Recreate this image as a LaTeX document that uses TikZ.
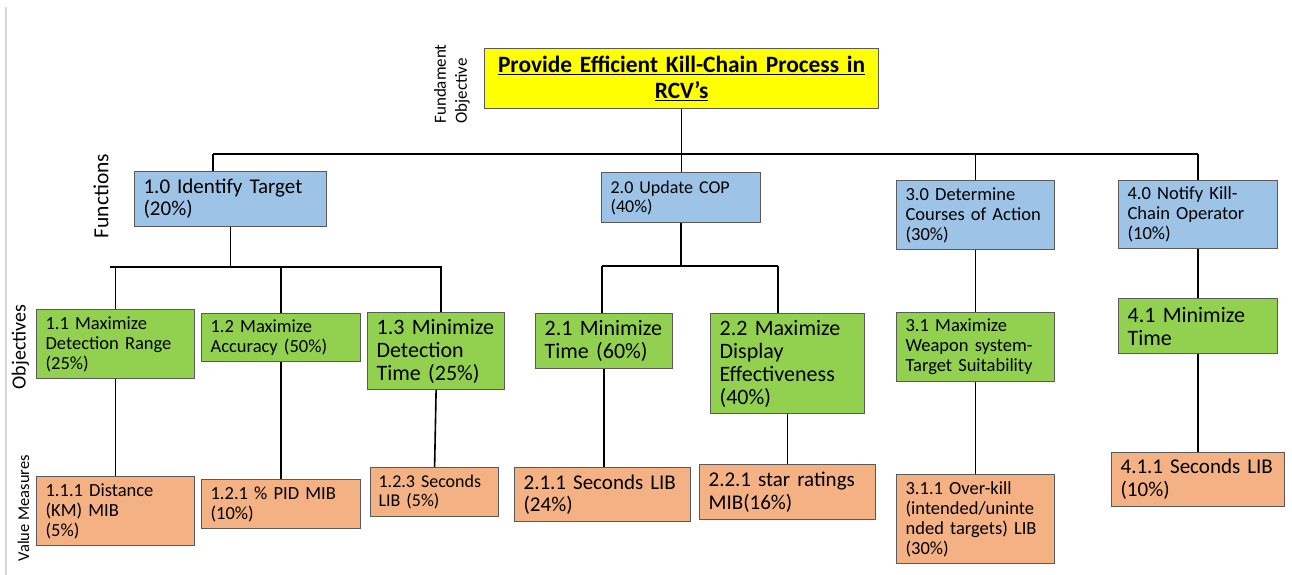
\documentclass[tikz,border=0pt]{standalone}
\usepackage{fontspec}
\setmainfont{Carlito}
\definecolor{yel}{HTML}{FFFF00}
\definecolor{blu}{HTML}{9DC3E6}
\definecolor{grn}{HTML}{92D050}
\definecolor{org}{HTML}{F4B183}
\definecolor{boxline}{HTML}{5A5A5A}
\definecolor{sideline}{HTML}{D9D9D9}
\begin{document}
\begin{tikzpicture}[x=1pt,y=-1pt,
  box/.style={draw=boxline, line width=1.2pt, anchor=north west, inner xsep=9pt, inner ysep=0pt, align=left, text=black},
  fn/.style={box, fill=blu},
  ob/.style={box, fill=grn},
  vm/.style={box, fill=org},
  lab/.style={rotate=90, text=black},
  conn/.style={draw=black, line width=1.6pt}]
\useasboundingbox (0,0) rectangle (1292,575);
\fill[white] (0,0) rectangle (1292,575);
\draw[sideline, line width=1.5pt] (6,7) -- (6,575);

% top objective
\node[box, fill=yel, inner xsep=3pt, align=center, text width=388pt, minimum height=60pt, font={\fontsize{23.4}{25.5}\selectfont\bfseries}] (top) at (484,48)
  {\underline{Provide Efficient Kill-Chain Process in}\\\underline{RCV’s}};

% side labels
\node[lab, align=left, font={\fontsize{17}{21}\selectfont}] (lfo) at (452,84) {Fundament\\Objective};
\node[lab, font={\fontsize{21.5}{24}\selectfont}] (lfn) at (101,196) {Functions};
\node[lab, font={\fontsize{20}{22}\selectfont}] (lob) at (20.5,347) {Objectives};
\node[lab, font={\fontsize{16.5}{18}\selectfont}] (lvm) at (23.5,508) {Value Measures};

% functions
\node[fn, text width=174pt, minimum height=55pt, font={\fontsize{21}{22}\selectfont}] (f1) at (134,171) {1.0 Identify Target\\(20\%)};
\node[fn, text width=141pt, minimum height=50pt, font={\fontsize{18}{19}\selectfont}] (f2) at (601,172) {2.0 Update COP\\(40\%)};
\node[fn, text width=140pt, minimum height=69pt, font={\fontsize{18.5}{20}\selectfont}] (f3) at (896,180) {3.0 Determine\\Courses of Action\\(30\%)};
\node[fn, text width=141pt, minimum height=68pt, font={\fontsize{18.5}{20}\selectfont}] (f4) at (1118,180) {4.0 Notify Kill-\\Chain Operator\\(10\%)};

% objectives
\node[ob, text width=140pt, minimum height=69pt, font={\fontsize{18.5}{20}\selectfont}] (o11) at (36,309) {1.1 Maximize\\Detection Range\\(25\%)};
\node[ob, text width=141pt, minimum height=48pt, font={\fontsize{18.5}{20}\selectfont}] (o12) at (201,313) {1.2 Maximize\\Accuracy (50\%)};
\node[ob, text width=119pt, minimum height=77pt, font={\fontsize{22}{23}\selectfont}] (o13) at (367,312) {1.3 Minimize\\Detection\\Time (25\%)};
\node[ob, text width=119pt, minimum height=55pt, font={\fontsize{22}{23.5}\selectfont}] (o21) at (535,313) {2.1 Minimize\\Time (60\%)};
\node[ob, text width=136pt, minimum height=100pt, font={\fontsize{22}{23}\selectfont}] (o22) at (710,313) {2.2 Maximize\\Display\\Effectiveness\\(40\%)};
\node[ob, text width=140pt, minimum height=69pt, font={\fontsize{18.5}{20}\selectfont}] (o31) at (896,312) {3.1 Maximize\\Weapon system-\\Target Suitability};
\node[ob, text width=141pt, minimum height=55pt, font={\fontsize{22}{23}\selectfont}] (o41) at (1118,298) {4.1 Minimize\\Time};

% value measures
\node[vm, text width=140pt, minimum height=69pt, font={\fontsize{18.5}{20}\selectfont}] (v111) at (36,476) {1.1.1 Distance\\(KM) MIB\\(5\%)};
\node[vm, text width=141pt, minimum height=49pt, font={\fontsize{18.5}{20}\selectfont}] (v121) at (201,479) {1.2.1 \% PID MIB\\(10\%)};
\node[vm, inner xsep=8pt, text width=112pt, minimum height=49pt, font={\fontsize{18}{19.5}\selectfont}] (v123) at (370,467) {1.2.3 Seconds\\LIB (5\%)};
\node[vm, text width=158pt, minimum height=54pt, font={\fontsize{21}{22.5}\selectfont}] (v211) at (514,467) {2.1.1 Seconds LIB\\(24\%)};
\node[vm, text width=158pt, minimum height=55pt, font={\fontsize{21}{22.5}\selectfont}] (v221) at (699,464) {2.2.1 star ratings\\MIB(16\%)};
\node[vm, text width=140pt, minimum height=89pt, font={\fontsize{18.5}{20}\selectfont}] (v311) at (896,474) {3.1.1 Over-kill\\(intended/uninte\\nded targets) LIB\\(30\%)};
\node[vm, text width=155pt, minimum height=54pt, font={\fontsize{21}{23}\selectfont}] (v411) at (1111,452) {4.1.1 Seconds LIB\\(10\%)};

% junction coordinates
\coordinate (b1L) at (213,154);
\coordinate (b1R) at (1198,154);
\coordinate (b2L) at (110,267);
\coordinate (b2R) at (442,267);
\coordinate (j12) at (281,267);
\coordinate (j13) at (441,267);
\coordinate (b3L) at (602,266);
\coordinate (b3R) at (778,266);

% level 1 connectors
\draw[conn] (b1L) -- (b1R);
\draw[conn] (top.south) -- (top.south |- f2.north);
\draw[conn] (b1L) -- (b1L |- f1.north);
\draw[conn] (f3.north) -- (f3.north |- b1L);
\draw[conn] (b1R) -- (b1R |- f4.north);

% function 1 connectors
\draw[conn] (f1.south) -- (f1.south |- b2L);
\draw[conn] (b2L) -- (b2R);
\draw[conn] (o11.north) -- (o11.north |- b2L);
\draw[conn] (j12) -- (j12 |- o12.north);
\draw[conn] (j13) -- (j13 |- o13.north);

% function 2 connectors
\draw[conn] (f2.south) -- (f2.south |- b3L);
\draw[conn] (b3L) -- (b3R);
\draw[conn] (b3L) -- (b3L |- o21.north);
\draw[conn] (b3R) -- (b3R |- o22.north);

% functions 3, 4
\draw[conn] (f3.south) -- (o31.north);
\draw[conn] (f4.south) -- (o41.north);

% objectives to value measures
\draw[conn] (o11.south) -- (v111.north);
\draw[conn] (o12.south) -- (v121.north);
\draw[conn] (o13.south) -- (v123.north);
\draw[conn] (o21.south) -- (o21.south |- v211.north);
\draw[conn] (o22.south) -- (v221.north);
\draw[conn] (o31.south) -- (v311.north);
\draw[conn] (o41.south) -- (v411.north);
\end{tikzpicture}
\end{document}
